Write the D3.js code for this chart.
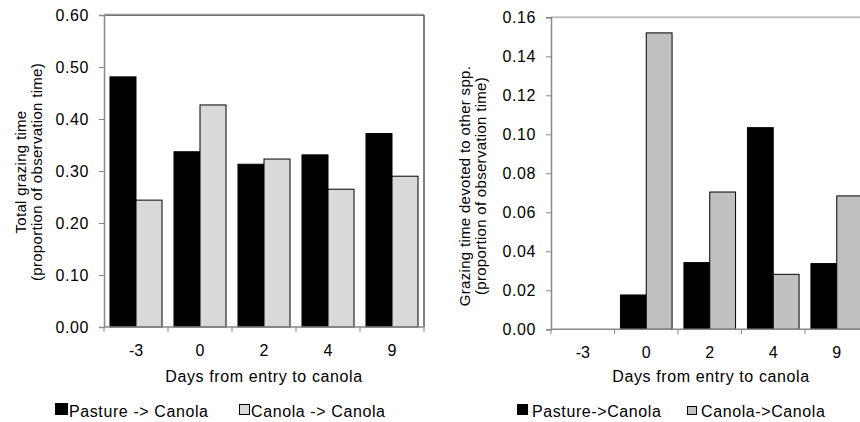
<!DOCTYPE html>
<html><head><meta charset="utf-8">
<script src="https://cdn.jsdelivr.net/npm/d3@7"></script>
<style>
body{margin:0;background:#fff;}
text{font-family:"Liberation Sans",Arial,sans-serif;fill:#000;}
</style></head><body>
<svg id="c" width="860" height="422"></svg>
<script>
const days = ["-3","0","2","4","9"];
const series = ["Pasture -> Canola","Canola -> Canola"];
const seriesR = ["Pasture->Canola","Canola->Canola"];
const totalPasture = [0.481,0.337,0.313,0.331,0.372];
const totalCanola  = [0.244,0.427,0.323,0.265,0.290];
const otherPasture = [0,0.0176,0.0342,0.1034,0.0337];
const otherCanola  = [0,0.152,0.0704,0.0282,0.0684];
const leftTicks = [0,0.1,0.2,0.3,0.4,0.5,0.6];
const rightTicks = [0,0.02,0.04,0.06,0.08,0.10,0.12,0.14,0.16];

const svg = d3.select("#c");
const FS = 16;

function panel(cfg){
  const g = svg.append("g");
  const x0 = d3.scaleBand().domain(days).range([cfg.x0, cfg.x0 + cfg.step*days.length]).padding(0);
  const x1 = d3.scaleBand().domain([0,1]).range([0, x0.bandwidth()]).paddingInner(0).paddingOuter(0.23);
  const y = d3.scaleLinear().domain([0, cfg.max]).range([cfg.yb, cfg.yt]);
  if (cfg.frame){
    g.append("line").attr("x1",cfg.x0).attr("x2",cfg.xr).attr("y1",cfg.yt-0.5).attr("y2",cfg.yt-0.5).attr("stroke","#999").attr("stroke-width",1.5);
    g.append("line").attr("x1",cfg.x0).attr("x2",cfg.xr).attr("y1",cfg.yt+0.5).attr("y2",cfg.yt+0.5).attr("stroke","#555").attr("stroke-width",0.8);
    g.append("line").attr("x1",cfg.xr).attr("x2",cfg.xr).attr("y1",cfg.yt).attr("y2",cfg.yb).attr("stroke","#555").attr("stroke-width",1.5);
  } else {
    g.append("line").attr("x1",cfg.x0).attr("x2",860).attr("y1",cfg.yt).attr("y2",cfg.yt).attr("stroke","#c0c0c0").attr("stroke-width",2);
  }
  const vals = [cfg.a, cfg.b];
  const cols = ["#000", cfg.grey];
  days.forEach((d,i)=>{
    [0,1].forEach(s=>{
      const v = vals[s][i];
      if (v<=0) return;
      g.append("rect")
        .attr("x", x0(d)+x1(s)).attr("width", x1.bandwidth())
        .attr("y", y(v)).attr("height", y(0)-y(v))
        .attr("fill", cols[s]).attr("stroke","#000").attr("stroke-width",1);
    });
  });
  const ya = g.append("g").attr("transform",`translate(${cfg.x0},0)`)
    .call(d3.axisLeft(y).tickValues(cfg.ticks).tickFormat(d3.format(".2f")).tickSize(5).tickPadding(10));
  ya.select(".domain").attr("stroke","#888").attr("stroke-width",1.5);
  ya.selectAll(".tick line").attr("stroke","#888");
  ya.selectAll("text").style("font-size",FS+"px").style("letter-spacing","0.6px").attr("fill","#000");
  const xa = g.append("g").attr("transform",`translate(0,${cfg.yb})`);
  xa.append("line").attr("x1",cfg.x0).attr("x2",cfg.xr).attr("stroke","#888").attr("stroke-width",1.5);
  const bounds = days.map(d=>x0(d)).concat([x0(days[days.length-1])+x0.bandwidth()]);
  bounds.forEach(b=>{ if (b<=860) xa.append("line").attr("x1",b).attr("x2",b).attr("y1",0).attr("y2",5).attr("stroke","#888"); });
  days.forEach(d=>{
    xa.append("text").attr("x", x0(d)+x0.bandwidth()/2).attr("y",29).attr("text-anchor","middle").style("font-size",FS+"px").text(d);
  });
  g.append("text").attr("x",cfg.xtx).attr("y",382).attr("text-anchor","middle").style("font-size",FS+"px").style("letter-spacing","0.6px").text("Days from entry to canola");
  cfg.ylab.forEach((t,k)=>{
    g.append("text").attr("transform",`translate(${cfg.ylx[k]},${cfg.yly}) rotate(-90)`).attr("text-anchor","middle").style("font-size","15px").style("letter-spacing","0.3px").text(t);
  });
  cfg.leg.forEach((L,k)=>{
    g.append("rect").attr("x",L.x).attr("y",L.y).attr("width",L.w).attr("height",L.h)
      .attr("fill",cols[k]).attr("stroke","#000").attr("stroke-width",k===0?0:1);
    g.append("text").attr("x",L.tx).attr("y",416.5).style("font-size",FS+"px").style("letter-spacing","0.6px").text(L.t);
  });
}

panel({x0:104, step:64, xr:424, yt:15, yb:327, max:0.6, a:totalPasture, b:totalCanola, grey:"#d9d9d9",
  ticks:leftTicks, frame:true, xtx:264,
  ylab:["Total grazing  time","(proportion of observation time)"], ylx:[26,42], yly:172,
  leg:[{x:55,y:403,w:13,h:12,tx:69,t:series[0]},{x:239.5,y:404.5,w:10,h:10,tx:251,t:series[1]}]});

panel({x0:551, step:63.5, xr:868, yt:17.3, yb:329.3, max:0.16, a:otherPasture, b:otherCanola, grey:"#c0c0c0",
  ticks:rightTicks, frame:false, xtx:711,
  ylab:["Grazing time  devoted  to other spp.","(proportion of observation  time)"], ylx:[470,486], yly:186,
  leg:[{x:517,y:404,w:11,h:11,tx:532,t:seriesR[0]},{x:687.5,y:406.5,w:9,h:8,tx:701,t:seriesR[1]}]});
</script>
</body></html>
